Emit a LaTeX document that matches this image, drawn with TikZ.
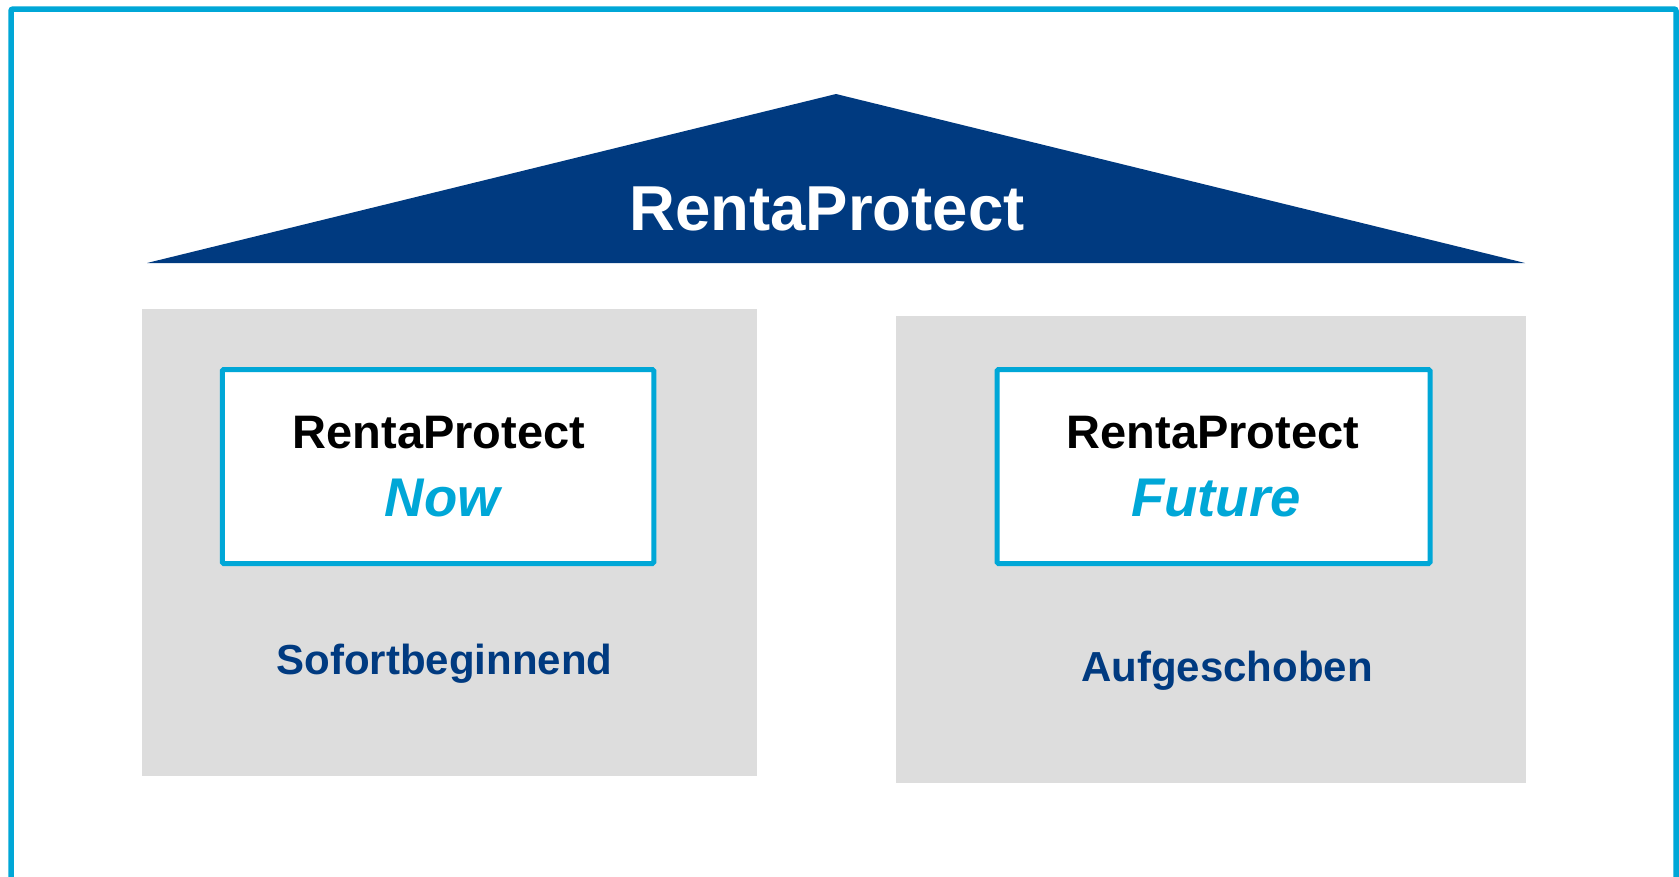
\documentclass[tikz,border=0pt]{standalone}
\usepackage{fontspec}
\setmainfont{Liberation Sans}
\definecolor{rpdark}{HTML}{003A80}
\definecolor{rpcyan}{HTML}{00A7D7}
\definecolor{rpgrey}{HTML}{DDDDDD}
\begin{document}
\begin{tikzpicture}[x=1pt,y=-1pt,
  greybox/.style={fill=rpgrey,draw=none,inner sep=0pt},
  prodbox/.style={fill=white,draw=rpcyan,line width=5pt,rounded corners=1.5pt,inner sep=0pt},
  titletext/.style={anchor=base,text=white,inner sep=0pt,font=\fontsize{63.5}{70}\selectfont\bfseries},
  nametext/.style={anchor=base,text=black,inner sep=0pt,font=\fontsize{47}{52}\selectfont\bfseries},
  varianttext/.style={anchor=base,text=rpcyan,inner sep=0pt,font=\fontsize{54.5}{60}\selectfont\bfseries\itshape},
  kindtext/.style={anchor=base,text=rpdark,inner sep=0pt,font=\fontsize{42}{48}\selectfont\bfseries}]
\useasboundingbox (0,0) rectangle (1679,876);
\fill[white] (0,0) rectangle (1679,876);
% outer frame (open at the bottom)
\coordinate (fbl) at (11,890);
\coordinate (ftl) at (11,9);
\coordinate (ftr) at (1676,9);
\coordinate (fbr) at (1676,890);
\begin{scope}
\clip (0,0) rectangle (1679,876);
\draw[rpcyan,line width=5.5pt,rounded corners=2pt] (fbl) -- (ftl) -- (ftr) -- (fbr);
\end{scope}
% roof
\coordinate (roofl) at (147,263);
\coordinate (roofa) at (836,94);
\coordinate (roofr) at (1525,263);
\fill[rpdark] (roofl) -- (roofa) -- (roofr) -- cycle;
\node[titletext] (title) at (827,230) {RentaProtect};
% grey blocks
\node[greybox,minimum width=615,minimum height=467] (gl) at (449.5,542.5) {};
\node[greybox,minimum width=630,minimum height=467] (gr) at (1211,549.5) {};
% product boxes
\node[prodbox,minimum width=431.5,minimum height=194] (bl) at (438,466.5) {};
\node[prodbox,minimum width=433,minimum height=194] (br) at (1213.5,466.5) {};
% texts
\node[nametext] (nl) at (439,448) {RentaProtect};
\node[varianttext] (vl) at (442.5,516) {Now};
\node[kindtext] (kl) at (444.4,674) {Sofortbeginnend};
\node[nametext] (nr) at (1213,448) {RentaProtect};
\node[varianttext] (vr) at (1216,516) {Future};
\node[kindtext] (kr) at (1227,681.7) {Aufgeschoben};
\end{tikzpicture}
\end{document}
